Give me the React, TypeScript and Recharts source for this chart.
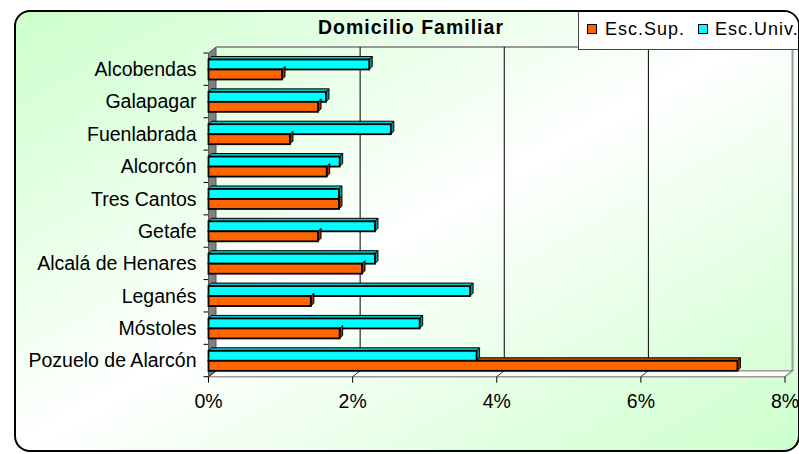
import { Bar, BarChart, CartesianGrid, XAxis, YAxis } from "recharts";

const cities = [
    "Alcobendas",
    "Galapagar",
    "Fuenlabrada",
    "Alcorcón",
    "Tres Cantos",
    "Getafe",
    "Alcalá de Henares",
    "Leganés",
    "Móstoles",
    "Pozuelo de Alarcón",
];
const escSup = [1.02, 1.52, 1.13, 1.64, 1.81, 1.52, 2.13, 1.42, 1.82, 7.34];
const escUniv = [2.23, 1.63, 2.53, 1.82, 1.81, 2.31, 2.31, 3.63, 2.93, 3.72];
const xTicks = [0, 2, 4, 6, 8];

const data = cities.map((city, i) => ({ city, sup: escSup[i], univ: escUniv[i] }));

const FONT = "'Liberation Sans', Arial, sans-serif";
// 3d depth of the walls and of the bars
const DX = 7.5;
const DY = 6;
const D = 3;

function box(p: any, front: string, top: string, side: string, topFrom?: number) {
    const { x, y, width, height } = p;
    const x2 = x + width;
    const tx = topFrom === undefined ? x : Math.max(x, topFrom);
    return (
        <g>
            {tx < x2 && (
                <polygon
                    points={`${tx},${y} ${tx + D},${y - D} ${x2 + D},${y - D} ${x2},${y}`}
                    fill={top}
                    stroke="#000"
                    strokeWidth={1}
                />
            )}
            <polygon
                points={`${x2},${y} ${x2 + D},${y - D} ${x2 + D},${y + height - D} ${x2},${y + height}`}
                fill={side}
                stroke="#000"
                strokeWidth={1}
            />
            <rect x={x} y={y} width={width} height={height} fill={front} stroke="#000" strokeWidth={1.8} />
        </g>
    );
}

const UnivShape = (p: any) => box(p, "#00ffff", "#00cccc", "#009999");

// top face of the orange bar is hidden behind the cyan bar above it
const SupShape = (p: any) => {
    const perUnit = p.width / p.payload.sup;
    const cyanEnd = p.x + p.payload.univ * perUnit;
    return box(p, "#ff6600", "#c04c00", "#993300", cyanEnd);
};

const vLine = (p: any) => {
    const { x1, y1, y2, index } = p;
    const last = index === xTicks.length - 1;
    return (
        <g key={`v-${index}`}>
            {index === 0 ? (
                <polygon
                    points={`${x1},${y1} ${x1 + DX},${y1 - DY} ${x1 + DX},${y2 - DY} ${x1},${y2}`}
                    fill="#808080"
                    stroke="#555"
                    strokeWidth={1}
                />
            ) : (
                <line
                    x1={x1 + DX}
                    y1={y1 - DY}
                    x2={x1 + DX}
                    y2={y2 - DY}
                    stroke={last ? "#999" : "#000"}
                    strokeWidth={last ? 2 : 1}
                />
            )}
            <line x1={x1} y1={y2} x2={x1 + DX} y2={y2 - DY} stroke={last ? "#999" : "#333"} strokeWidth={1} />
            <line x1={x1} y1={y2} x2={x1} y2={y2 + 6} stroke="#000" strokeWidth={1} />
        </g>
    );
};

const hLine = (p: any) => {
    const { x1, x2, y1, index } = p;
    return (
        <g key={`h-${index}`}>
            {index === 0 && (
                <line x1={x1 + DX} y1={y1 - DY} x2={x2 + DX} y2={y1 - DY} stroke="#999" strokeWidth={2} />
            )}
            {index === cities.length && (
                <polygon
                    points={`${x1},${y1} ${x1 + DX},${y1 - DY} ${x2 + DX},${y1 - DY} ${x2},${y1}`}
                    fill="#fff"
                    stroke="#999"
                    strokeWidth={1.5}
                />
            )}
            <line x1={x1 - 5} y1={y1} x2={x1} y2={y1} stroke="#000" strokeWidth={1} />
        </g>
    );
};

const bandEdges = ({ offset }: any) =>
    cities.map((_, i) => offset.top + (i * offset.height) / cities.length).concat(offset.top + offset.height);

export default function App() {
    return (
        <div style={{ position: "absolute", left: 0, top: 0, width: 799, height: 454, overflow: "hidden" }}>
            <div
                style={{
                    position: "absolute",
                    left: 14,
                    top: 10,
                    width: 786,
                    height: 442,
                    boxSizing: "border-box",
                    border: "2px solid #000",
                    borderRadius: 16,
                    overflow: "hidden",
                    background: "linear-gradient(to bottom right, #ccffcc 0%, #ffffff 50%, #ccffcc 100%)",
                    fontFamily: FONT,
                }}
            >
                <div style={{ position: "absolute", left: -16, top: -12 }}>
                    <BarChart
                        width={799}
                        height={454}
                        layout="vertical"
                        data={data}
                        margin={{ top: 53, right: 14, bottom: 47.3, left: 18.5 }}
                        barCategoryGap="20%"
                        barGap={0}
                    >
                        <CartesianGrid
                            horizontal={hLine}
                            vertical={vLine}
                            horizontalCoordinatesGenerator={bandEdges}
                        />
                        <XAxis
                            type="number"
                            domain={[0, 8]}
                            ticks={xTicks}
                            tickFormatter={(v) => `${v}%`}
                            axisLine={false}
                            tickLine={false}
                            tickSize={0}
                            tickMargin={17}
                            height={30}
                            tick={{ fontSize: 19.5, fill: "#000", fontFamily: FONT }}
                        />
                        <YAxis
                            type="category"
                            dataKey="city"
                            width={190}
                            interval={0}
                            axisLine={false}
                            tickLine={false}
                            tickSize={0}
                            tickMargin={12}
                            tick={{ fontSize: 19.5, fill: "#000", fontFamily: FONT }}
                        />
                        <Bar dataKey="univ" name="Esc.Univ." fill="#00ffff" shape={UnivShape} isAnimationActive={false} />
                        <Bar dataKey="sup" name="Esc.Sup." fill="#ff6600" shape={SupShape} isAnimationActive={false} />
                    </BarChart>
                </div>

                <div
                    style={{
                        position: "absolute",
                        left: 295,
                        top: 5.8,
                        width: 200,
                        textAlign: "center",
                        fontSize: 19.5,
                        lineHeight: "19px",
                        fontWeight: "bold",
                        letterSpacing: 1,
                        whiteSpace: "nowrap",
                        color: "#000",
                    }}
                >
                    Domicilio Familiar
                </div>

                <div
                    style={{
                        position: "absolute",
                        left: 562,
                        top: 0,
                        width: 240,
                        height: 37,
                        background: "#fff",
                        borderLeft: "1px solid #444",
                        borderBottom: "1px solid #444",
                        fontSize: 18,
                        lineHeight: "18px",
                        letterSpacing: 1,
                        color: "#000",
                    }}
                >
                    <div style={{ position: "absolute", left: 8, top: 12, width: 8, height: 8, background: "#ff6600", border: "1px solid #000" }} />
                    <div style={{ position: "absolute", left: 26, top: 8, whiteSpace: "nowrap" }}>Esc.Sup.</div>
                    <div style={{ position: "absolute", left: 119, top: 12, width: 8, height: 8, background: "#00ffff", border: "1px solid #000" }} />
                    <div style={{ position: "absolute", left: 136, top: 8, whiteSpace: "nowrap" }}>Esc.Univ.</div>
                </div>
            </div>
        </div>
    );
}
